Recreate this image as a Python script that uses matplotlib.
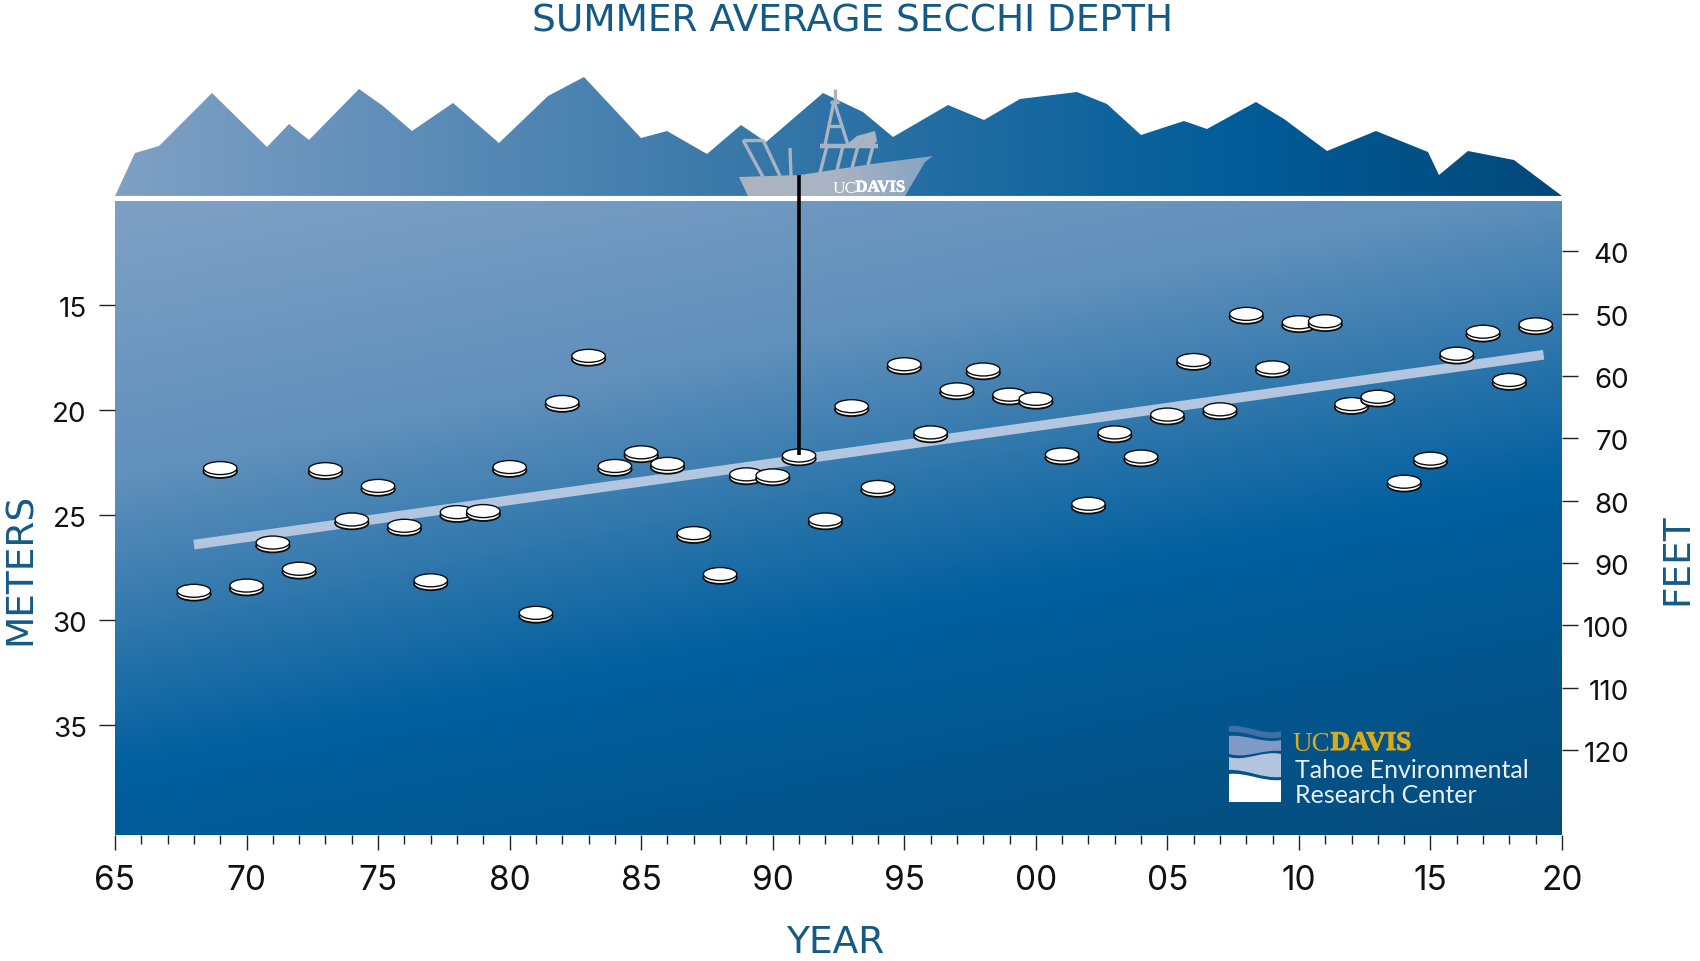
import numpy as np
import matplotlib
matplotlib.use("Agg")
import matplotlib.pyplot as plt
import matplotlib.patheffects as pe
from matplotlib.colors import LinearSegmentedColormap
from matplotlib.patches import Ellipse, PathPatch, Polygon
from matplotlib.path import Path
from matplotlib.transforms import ScaledTranslation

years = list(range(1968, 2020))
depth_m = [28.6, 22.75, 28.35, 26.3, 27.55, 22.8, 25.2, 23.6, 25.5, 28.1,
           24.85, 24.8, 22.7, 29.65, 19.6, 17.4, 22.65, 22.0, 22.55, 25.85,
           27.8, 23.05, 23.1, 22.15, 25.2, 19.8, 23.65, 17.8, 21.05, 19.0,
           18.05, 19.25, 19.45, 22.1, 24.45, 21.05, 22.2, 20.2, 17.6, 19.95,
           15.4, 17.95, 15.8, 15.75, 19.7, 19.35, 23.4, 22.3, 17.3, 16.25,
           18.55, 15.9]
trend_years = [1968, 2019.3]
trend_m = [26.4, 17.35]
rope_year = 1991
rope_m = [8.8, 22.15]
meter_ticks = [15, 20, 25, 30, 35]
feet_ticks = [40, 50, 60, 70, 80, 90, 100, 110, 120]
year_ticks = list(range(1965, 2021, 5))

# illustration outlines, in image pixels
mountains = [(115, 197), (135, 154), (159, 147), (212, 94), (267, 148), (289, 125), (309, 141),
             (359, 90), (383, 107), (412, 132), (453, 104), (499, 144), (548, 97), (584, 78),
             (641, 139), (667, 132), (707, 155), (741, 126), (766, 143), (823, 94), (863, 113),
             (893, 138), (948, 106), (984, 121), (1020, 100), (1077, 93), (1107, 105), (1141, 136),
             (1184, 122), (1207, 130), (1256, 103), (1284, 120), (1327, 152), (1376, 132),
             (1428, 153), (1439, 176), (1468, 152), (1514, 161), (1562, 197)]
hull = [(739, 178), (800, 176), (872, 165), (933, 157), (925, 163), (905, 197), (748, 197)]
cabin = [(846, 146), (857, 137), (875, 132), (877, 142), (873, 147)]
boat_lines = [((835, 90), (835, 104)), ((834, 102), (825, 146)), ((834, 102), (848, 146)),
              ((830, 103), (839, 103)), ((828, 127), (843, 127)),
              ((820, 174), (827, 147)), ((837, 171), (843, 147)), ((852, 169), (858, 147)),
              ((868, 166), (873, 147)),
              ((743, 141), (763, 141)), ((743, 141), (763, 178)), ((763, 141), (780, 177)),
              ((790, 149), (791, 177))]

W, H = 1700, 962
L, R, T, B = 115, 1562, 201.6, 836
BLUE = "#155a85"

plt.rcParams["font.family"] = "Inter"
fig = plt.figure(figsize=(W / 100, H / 100), dpi=100, facecolor="white")
ax = fig.add_axes([L / W, 1 - B / H, (R - L) / W, (B - T) / H])

# water
water = LinearSegmentedColormap.from_list("water", [(0, "#7fa0c5"), (0.3, "#6090bb"), (0.62, "#005f9e"), (1, "#064c7c")])
u, v = np.meshgrid(np.linspace(0, 1, 400), np.linspace(0, 1, 300))
ax.imshow((v * 634 + u * 290) / 924, cmap=water, vmin=0, vmax=1, aspect="auto",
          extent=[1965, 2020, 40.24, 10], zorder=0)

ax.set_xlim(1965, 2020)
ax.set_ylim(40.24, 10)
for s in ax.spines.values():
    s.set_visible(False)

ax.plot(trend_years, trend_m, color="#b3c6e0", lw=7, solid_capstyle="butt", zorder=2)

# secchi discs, drawn back to front
for yr, m in zip(years, depth_m):
    ax.add_patch(Ellipse((yr, m + 0.16), 1.27, 0.62, fc="white", ec="#0b0b0b", lw=1.3, zorder=3))
    ax.add_patch(Ellipse((yr, m), 1.27, 0.62, fc="white", ec="#0b0b0b", lw=1.0, zorder=3))

ax.set_xticks(year_ticks)
ax.set_xticklabels([f"{y % 100:02d}" for y in year_ticks], fontsize=24)
ax.set_xticks(range(1965, 2021), minor=True)
ax.tick_params(axis="x", which="major", length=10.8, width=1.0, color="#222222", pad=10, labelcolor="#111111")
ax.tick_params(axis="x", which="minor", length=6.3, width=1.0, color="#222222")
ax.set_yticks(meter_ticks)
ax.tick_params(axis="y", length=11.3, width=1.0, color="#222222", pad=9, labelsize=20, labelcolor="#111111")

ax2 = ax.twinx()
ax2.set_ylim(133.6, 31.9)
for s in ax2.spines.values():
    s.set_visible(False)
ax2.set_yticks(feet_ticks)
ax2.tick_params(axis="y", length=11.3, width=1.0, color="#222222", pad=37, labelsize=20, labelcolor="#111111")
for lab in ax2.get_yticklabels():
    lab.set_ha("right")

# numbers sit a touch below their ticks in the original
nudge = ScaledTranslation(0, -1 / 100, fig.dpi_scale_trans)
for lab in ax.get_yticklabels() + ax2.get_yticklabels():
    lab.set_transform(lab.get_transform() + nudge)

# scenery and logo, in image pixels
art = fig.add_axes([0, 0, 1, 1], facecolor="none", zorder=5)
art.set_xlim(0, W)
art.set_ylim(H, 0)
art.axis("off")
art.set_autoscale_on(False)

sky = LinearSegmentedColormap.from_list("sky", [(0, "#7fa0c5"), (0.4, "#3e7bab"), (0.78, "#005c98"), (1, "#03487a")])
im = art.imshow(np.linspace(0, 1, 500)[None, :], cmap=sky, aspect="auto", extent=[L, R, 197, 75], zorder=1)
im.set_clip_path(Polygon(mountains, transform=art.transData))
art.plot([L, R], [199.3, 199.3], color="white", lw=3, solid_capstyle="butt", zorder=2)

grey = LinearSegmentedColormap.from_list("grey", ["#adb4c0", "#a9b3c3", "#86a3c2"])
im = art.imshow(np.linspace(0, 1, 200)[None, :], cmap=grey, aspect="auto", extent=[739, 933, 197, 157], zorder=3)
im.set_clip_path(Polygon(hull, transform=art.transData))
art.add_patch(Polygon(cabin, fc="#a9b3c2", ec="none", zorder=3))
for (x0, y0), (x1, y1) in boat_lines:
    art.plot([x0, x1], [y0, y1], color="#a9b3c2", lw=2.4, solid_capstyle="butt", zorder=3)
art.plot([820, 878], [146.5, 146.5], color="#a9b3c2", lw=3.2, solid_capstyle="butt", zorder=3)
art.text(832.5, 192.7, "UC", family="Liberation Serif", fontsize=12.5, color="white", va="baseline", zorder=4)
art.text(855.5, 192.7, "DAVIS", family="Liberation Serif", weight="bold", fontsize=12, color="white", va="baseline", zorder=4,
         path_effects=[pe.withStroke(linewidth=0.5, foreground="white")])

# the sounding line runs from the boat down to the disc
art.plot([rope_year, rope_year], rope_m, color="black", lw=2.6, solid_capstyle="butt",
         transform=ax.transData, zorder=6)

x0, x1 = 1229, 1281
bands = [([727, 725, 737, 732], [733, 731, 743, 738], "#3e6fa6"),
         ([737, 735, 745, 741], [755, 760, 750, 752], "#7f9ac4"),
         ([758, 763, 751, 755], [771, 770, 780, 778], "#b3c4df"),
         ([775, 773, 783, 781], [803, 803, 803, 803], "#ffffff")]
for top, bot, col in bands:
    verts = [(x0, top[0]), (x0 + 17, top[1]), (x0 + 34, top[2]), (x1, top[3]),
             (x1, bot[3]), (x0 + 34, bot[2]), (x0 + 17, bot[1]), (x0, bot[0]), (x0, top[0])]
    codes = [Path.MOVETO, Path.CURVE4, Path.CURVE4, Path.CURVE4,
             Path.LINETO, Path.CURVE4, Path.CURVE4, Path.CURVE4, Path.CLOSEPOLY]
    art.add_patch(PathPatch(Path(verts, codes), fc=col, ec="none", zorder=2))
art.text(1292.5, 751, "UC", family="Liberation Serif", fontsize=19.5, color="#d9ab1c", va="baseline")
art.text(1330.5, 751, "DAVIS", family="Liberation Serif", weight="bold", fontsize=19.5, color="#d9ab1c", va="baseline",
         path_effects=[pe.withStroke(linewidth=0.7, foreground="#d9ab1c")])
art.text(1295, 777.7, "Tahoe Environmental", family="Lato", fontsize=18, color="#e9eff6", va="baseline")
art.text(1295, 802.7, "Research Center", family="Lato", fontsize=18, color="#e9eff6", va="baseline")

CAPS = "DejaVu Sans"
fig.text(853 / W, 1 - 21 / H, "SUMMER AVERAGE SECCHI DEPTH", family=CAPS, fontsize=27, color=BLUE, ha="center", va="center")
fig.text(835 / W, 1 - 943 / H, "YEAR", family=CAPS, fontsize=27, color=BLUE, ha="center", va="center")
fig.text(21 / W, 1 - 569 / H, "METERS", family=CAPS, fontsize=27, color=BLUE, rotation=90, ha="center", va="center")
fig.text(1677 / W, 1 - 559 / H, "FEET", family=CAPS, fontsize=27, color=BLUE, rotation=90, ha="center", va="center")

fig.savefig("out.png", dpi=100)
